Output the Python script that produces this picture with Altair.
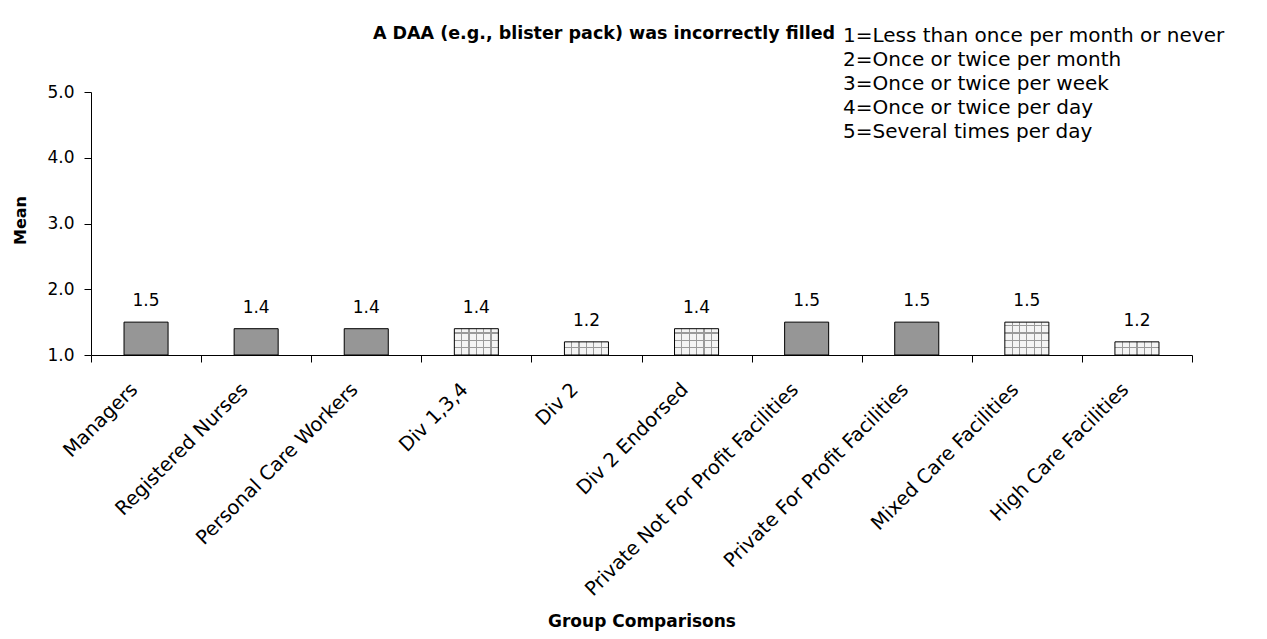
import altair as alt
import pandas as pd

categories = ["Managers", "Registered Nurses", "Personal Care Workers", "Div 1,3,4",
              "Div 2", "Div 2 Endorsed", "Private Not For Profit Facilities",
              "Private For Profit Facilities", "Mixed Care Facilities", "High Care Facilities"]
means = [1.5, 1.4, 1.4, 1.4, 1.2, 1.4, 1.5, 1.5, 1.5, 1.2]
hatched = [False, False, False, True, True, True, False, False, True, True]

title_text = "A DAA (e.g., blister pack) was incorrectly filled"
legend_lines = ["1=Less than once per month or never", "2=Once or twice per month",
                "3=Once or twice per week", "4=Once or twice per day",
                "5=Several times per day"]

df = pd.DataFrame({"group": categories, "mean": means, "hatched": hatched})

W, H = 1101, 263
FONT = "DejaVu Sans"
px_per_unit = H / 4.0
cell = 7.3
line_col = "#9a9a9a"
bg_col = "#f4f4f4"

x = alt.X("group:N", sort=categories, scale=alt.Scale(paddingInner=0, paddingOuter=0),
          axis=alt.Axis(title="Group Comparisons", labelAngle=-45, labelAlign="right",
                        labelBaseline="middle", labelFontSize=19.5, labelFont=FONT,
                        labelColor="black", labelLimit=500, titleFont=FONT, titleFontSize=17,
                        titleFontWeight="bold", titleColor="black", titleBaseline="middle",
                        tickBand="extent", tickSize=7, tickColor="black",
                        domainColor="black", labelPadding=24, labelOffset=-12, titleY=266))
y = alt.Y("mean:Q", scale=alt.Scale(domain=[1, 5], nice=False, zero=False),
          axis=alt.Axis(title="Mean", values=[1, 2, 3, 4, 5], format=".1f", grid=False,
                        labelFontSize=17, labelFont=FONT, labelColor="black",
                        titleFont=FONT, titleFontSize=16, titleFontWeight="bold",
                        titleColor="black", tickSize=7, tickColor="black",
                        domainColor="black", labelPadding=10,
                        titleX=-71, titleY=128, titleAlign="center", titleBaseline="middle"))

base = alt.Chart(df)

solid = base.transform_filter(alt.datum.hatched == False).mark_bar(
    width={"band": 0.4}, fill="#969696", stroke="black", strokeWidth=1
).encode(x=x, y=y, y2=alt.datum(1))

# vertical stripes for hatched bars
vstops = [{"offset": 0, "color": bg_col}]
ncol = 6
for i in range(1, ncol):
    f = i / ncol
    vstops += [{"offset": f - 0.014, "color": bg_col}, {"offset": f - 0.014, "color": line_col},
               {"offset": f + 0.014, "color": line_col}, {"offset": f + 0.014, "color": bg_col}]
vstops.append({"offset": 1, "color": bg_col})
vgrad = {"gradient": "linear", "x1": 0, "y1": 0, "x2": 1, "y2": 0, "stops": vstops}

layers = [solid]
hat = base.transform_filter(alt.datum.hatched == True).mark_bar(
    width={"band": 0.4}, fill=vgrad
).encode(x=x, y=y, y2=alt.datum(1))
layers.append(hat)

clear = "rgba(255,255,255,0)"
for v in sorted(set(m for m, h in zip(means, hatched) if h)):
    h = (v - 1) * px_per_unit
    stops = [{"offset": 0, "color": clear}]
    k = 1
    lw = 0.6 / h
    while k * cell < h - 1:
        f = 1 - k * cell / h
        stops += [{"offset": f - lw, "color": clear}, {"offset": f - lw, "color": line_col},
                  {"offset": f + lw, "color": line_col}, {"offset": f + lw, "color": clear}]
        k += 1
    stops = [stops[0]] + sorted(stops[1:], key=lambda s: s["offset"])
    stops.append({"offset": 1, "color": clear})
    hgrad = {"gradient": "linear", "x1": 0, "y1": 0, "x2": 0, "y2": 1, "stops": stops}
    layers.append(base.transform_filter((alt.datum.hatched == True) & (alt.datum.mean == v))
                  .mark_bar(width={"band": 0.4}, fill=hgrad)
                  .encode(x=x, y=y, y2=alt.datum(1)))

outline = base.transform_filter(alt.datum.hatched == True).mark_bar(
    width={"band": 0.4}, fill=None, stroke="black", strokeWidth=1
).encode(x=x, y=y, y2=alt.datum(1))
layers.append(outline)

labels = base.mark_text(dy=-12, baseline="bottom", fontSize=17, font=FONT, color="black").encode(
    x=x, y=y, text=alt.Text("mean:Q", format=".1f"))
layers.append(labels)

title = alt.Chart(pd.DataFrame({"t": [title_text]})).mark_text(
    font=FONT, fontSize=17.5, fontWeight="bold", align="center", baseline="middle", color="black"
).encode(text="t:N", x=alt.value(513), y=alt.value(-58))
layers.append(title)

leg = alt.Chart(pd.DataFrame({"t": [legend_lines]})).mark_text(
    font=FONT, fontSize=20, align="left", baseline="top", color="black", lineHeight=24
).encode(text="t:N", x=alt.value(752), y=alt.value(-66))
layers.append(leg)

chart = alt.layer(*layers).properties(
    width=W, height=H,
    autosize=alt.AutoSizeParams(type="none"),
    padding={"left": 83, "top": 84, "right": 60, "bottom": 276},
).configure_view(stroke=None)

chart.save("out.html", embed_options={"renderer": "svg", "actions": False})
